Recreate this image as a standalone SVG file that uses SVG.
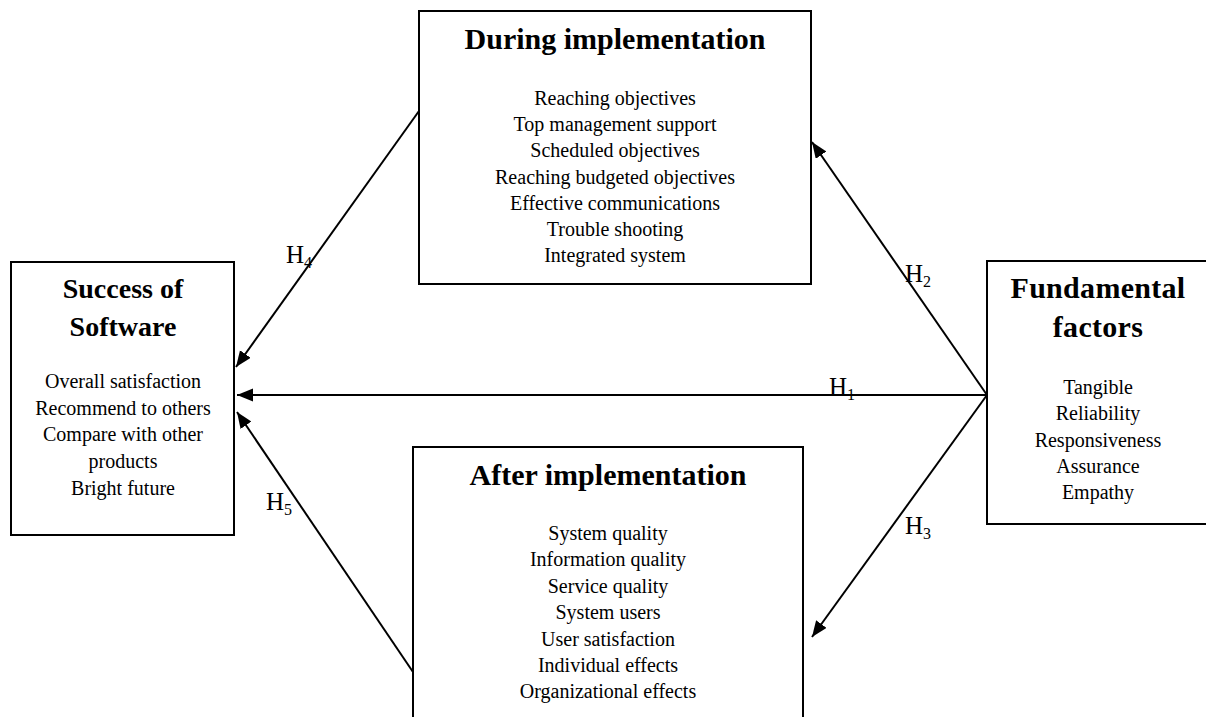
<svg xmlns="http://www.w3.org/2000/svg" width="1206" height="717" viewBox="0 0 1206 717">
<defs>
<style>
.box{fill:#fff;stroke:#000;stroke-width:2}
.hd{font-family:"Liberation Serif","Times New Roman",serif;font-weight:bold;font-size:30px;fill:#000;text-anchor:middle}
.hd2{font-family:"Liberation Serif","Times New Roman",serif;font-weight:bold;font-size:28px;fill:#000;text-anchor:middle}
.tx{font-family:"Liberation Serif","Times New Roman",serif;font-size:20px;fill:#000;text-anchor:middle}
.lb{font-family:"Liberation Serif","Times New Roman",serif;font-size:25px;fill:#000}
.sub{font-size:16px}
.ln{stroke:#000;stroke-width:2;fill:none}
</style>
<marker id="ah" markerUnits="userSpaceOnUse" markerWidth="18" markerHeight="14" refX="16" refY="6.5" orient="auto">
<path d="M0,0 L16,6.5 L0,13 z" fill="#000"/>
</marker>
</defs>
<rect width="1206" height="717" fill="#fff"/>

<g id="connectors">
<line class="ln" x1="419" y1="111" x2="236" y2="367" marker-end="url(#ah)"/>
<line class="ln" x1="987" y1="395" x2="237" y2="395" marker-end="url(#ah)"/>
<line class="ln" x1="987" y1="395" x2="812" y2="142" marker-end="url(#ah)"/>
<line class="ln" x1="987" y1="395" x2="812" y2="637" marker-end="url(#ah)"/>
<line class="ln" x1="413" y1="672" x2="237" y2="412" marker-end="url(#ah)"/>
<text class="lb" x="829" y="395">H<tspan class="sub" dy="5">1</tspan></text>
<text class="lb" x="905" y="282">H<tspan class="sub" dy="5">2</tspan></text>
<text class="lb" x="905" y="534">H<tspan class="sub" dy="5">3</tspan></text>
<text class="lb" x="286" y="263">H<tspan class="sub" dy="5">4</tspan></text>
<text class="lb" x="266" y="510">H<tspan class="sub" dy="5">5</tspan></text>
</g>

<g id="during">
<rect class="box" x="419" y="11" width="392" height="273"/>
<text class="hd" x="615" y="49">During implementation</text>
<text class="tx" x="615" y="105">Reaching objectives</text>
<text class="tx" x="615" y="131.2">Top management support</text>
<text class="tx" x="615" y="157.4">Scheduled objectives</text>
<text class="tx" x="615" y="183.6">Reaching budgeted objectives</text>
<text class="tx" x="615" y="209.8">Effective communications</text>
<text class="tx" x="615" y="236">Trouble shooting</text>
<text class="tx" x="615" y="262.2">Integrated system</text>
</g>

<g id="success">
<rect class="box" x="11" y="262" width="223" height="273"/>
<text class="hd2" x="123" y="298">Success of</text>
<text class="hd2" x="123" y="336">Software</text>
<text class="tx" x="123" y="388">Overall satisfaction</text>
<text class="tx" x="123" y="414.7">Recommend to others</text>
<text class="tx" x="123" y="441.3">Compare with other</text>
<text class="tx" x="123" y="468">products</text>
<text class="tx" x="123" y="494.7">Bright future</text>
</g>

<g id="fundamental">
<rect class="box" x="987" y="261" width="222" height="263"/>
<text class="hd" x="1098" y="298" letter-spacing="0.3">Fundamental</text>
<text class="hd" x="1098" y="337" letter-spacing="0.3">factors</text>
<text class="tx" x="1098" y="394">Tangible</text>
<text class="tx" x="1098" y="420.3">Reliability</text>
<text class="tx" x="1098" y="446.6">Responsiveness</text>
<text class="tx" x="1098" y="472.9">Assurance</text>
<text class="tx" x="1098" y="499.2">Empathy</text>
</g>

<g id="after">
<rect class="box" x="413" y="447" width="390" height="290"/>
<text class="hd" x="608" y="485">After implementation</text>
<text class="tx" x="608" y="540">System quality</text>
<text class="tx" x="608" y="566.4">Information quality</text>
<text class="tx" x="608" y="592.8">Service quality</text>
<text class="tx" x="608" y="619.2">System users</text>
<text class="tx" x="608" y="645.6">User satisfaction</text>
<text class="tx" x="608" y="672">Individual effects</text>
<text class="tx" x="608" y="698.4">Organizational effects</text>
</g>
</svg>
